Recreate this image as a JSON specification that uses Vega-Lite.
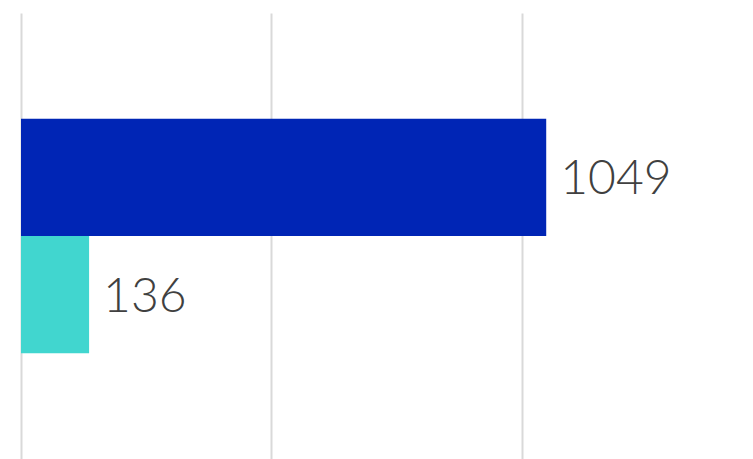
{
  "$schema": "https://vega.github.io/schema/vega-lite/v6.json",
  "autosize": "none",
  "width": 732,
  "height": 446,
  "padding": {"left": 21, "top": 13, "right": 0, "bottom": 0},
  "background": "white",
  "config": {"view": {"stroke": null}},
  "data": {"values": [
    {"cat": "A", "value": 1049, "color": "#0025B5"},
    {"cat": "B", "value": 136, "color": "#41D6CF"}
  ]},
  "encoding": {
    "y": {"field": "cat", "type": "nominal", "axis": null,
          "scale": {"paddingInner": 0, "paddingOuter": 0.9}},
    "x": {"field": "value", "type": "quantitative",
          "scale": {"domain": [0, 1462], "nice": false, "zero": true},
          "axis": {"values": [0, 500, 1000], "grid": true, "gridColor": "#d9d9d9", "gridWidth": 2,
                   "labels": false, "ticks": false, "domain": false, "title": null}}
  },
  "layer": [
    {"mark": {"type": "bar"},
     "encoding": {"color": {"field": "color", "type": "nominal", "scale": null}}},
    {"mark": {"type": "text", "align": "left", "baseline": "middle", "dx": 14, "dy": 3,
              "font": "Lato", "fontSize": 48, "color": "#404040", "fontWeight": 300},
     "encoding": {"text": {"field": "value", "type": "quantitative", "format": "d"}}}
  ]
}
